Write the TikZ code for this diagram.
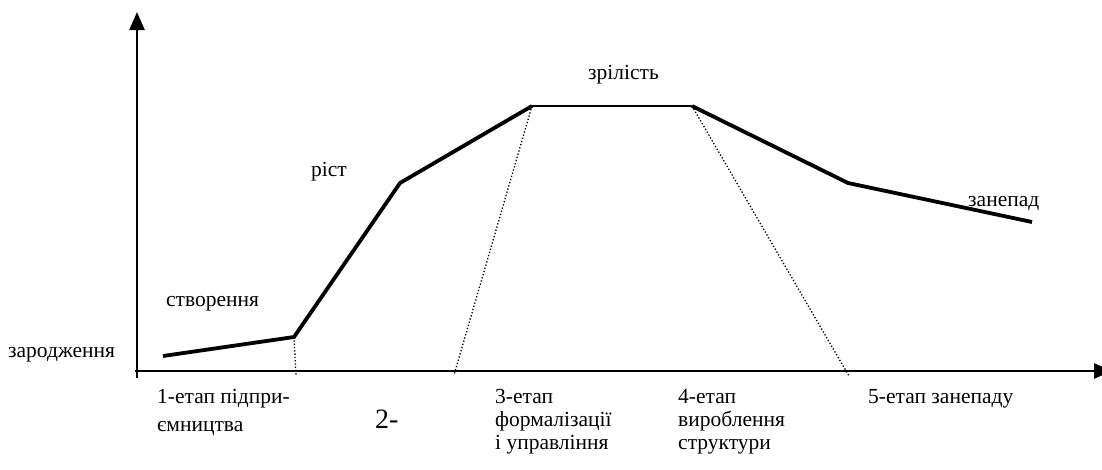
\documentclass[tikz,border=0pt]{standalone}
\usepackage{fontspec}
\setmainfont{Liberation Serif}
\usetikzlibrary{arrows.meta}
\begin{document}
\begin{tikzpicture}[x=1pt,y=-1pt,
  axis/.style={line width=2.5pt,-{Triangle[width=15pt,length=18pt]}},
  curve/.style={line width=3.8pt,line join=miter},
  plateau/.style={line width=2pt},
  guide/.style={line width=1.3pt,dotted},
  lbl/.style={font=\fontsize{21.5}{24}\selectfont,inner sep=0pt,anchor=base west},
  stage/.style={font=\fontsize{21.5}{23}\selectfont,inner sep=0pt,align=left,anchor=north west}]
\useasboundingbox (0,0) rectangle (1102,469);
% axes
\coordinate (o) at (137,378);
\coordinate (ytop) at (137,12);
\coordinate (xl) at (135,371);
\coordinate (xr) at (1112,371);
\draw[axis] (o) -- (ytop);
\draw[axis] (xl) -- (xr);
% curve points
\coordinate (p1) at (163,356);
\coordinate (p2) at (294,337);
\coordinate (p3) at (400,183);
\coordinate (p4) at (532,106);
\coordinate (p5) at (692,106);
\coordinate (p6) at (848,183);
\coordinate (p7) at (1032,222);
\draw[curve] (p1) -- (p2) -- (p3) -- (p4);
\draw[plateau] (p4) -- (p5);
\draw[curve] (p5) -- (p6) -- (p7);
% guides
\coordinate (g2) at (296,376);
\coordinate (g3) at (454,375);
\coordinate (g4) at (849,376);
\draw[guide] (p2) -- (g2);
\draw[guide] (p4) -- (g3);
\draw[guide] (p5) -- (g4);
% labels
\node[lbl] (l1) at (8,357) {зародження};
\node[lbl] (l2) at (166,306) {створення};
\node[lbl] (l3) at (311,176) {ріст};
\node[lbl] (l4) at (588,79) {зрілість};
\node[lbl] (l5) at (968,206) {занепад};
% stages
\node[stage,font=\fontsize{21.5}{28}\selectfont] (s1) at (157,389) {1-етап підпри-\\ємництва};
\node[font=\fontsize{28}{32}\selectfont,inner sep=0pt,anchor=base west] (s2) at (375,428) {2-};
\node[stage] (s3) at (495,389) {3-етап\\формалізації\\і управління};
\node[stage] (s4) at (678,389) {4-етап\\вироблення\\структури};
\node[stage] (s5) at (868,389) {5-етап занепаду};
\end{tikzpicture}
\end{document}
